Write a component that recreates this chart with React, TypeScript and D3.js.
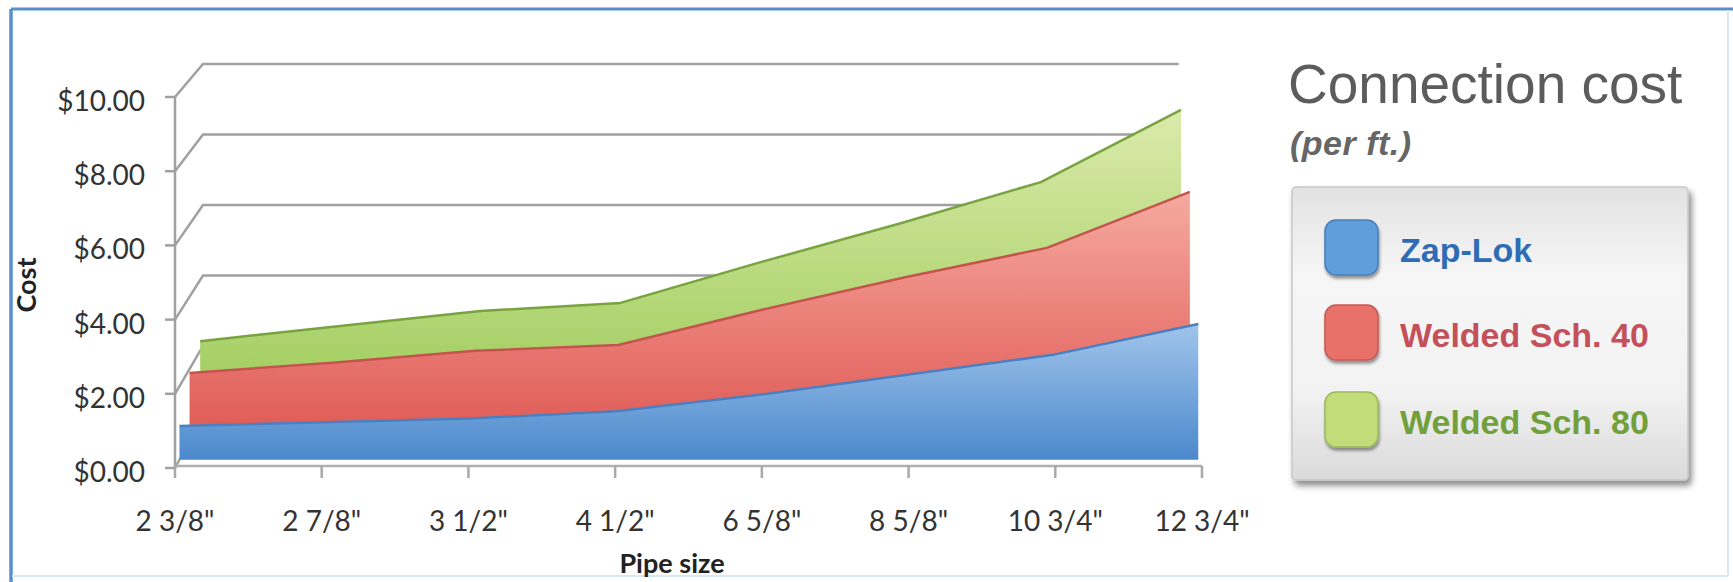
import React from 'react';
import * as d3 from 'd3';

const categories = ['2 3/8"', '2 7/8"', '3 1/2"', '4 1/2"', '6 5/8"', '8 5/8"', '10 3/4"', '12 3/4"'];
const zapLok = [0.92, 1.02, 1.12, 1.32, 1.77, 2.31, 2.85, 3.69];
const weldedSch40 = [1.89, 2.17, 2.5, 2.66, 3.63, 4.53, 5.35, 6.9];
const weldedSch80 = [2.27, 2.7, 3.12, 3.35, 4.5, 5.6, 6.76, 8.8];
const yTicks = [0, 2, 4, 6, 8, 10];
const seriesNames = ['Zap-Lok', 'Welded Sch. 40', 'Welded Sch. 80'];

const W = 1733;
const H = 582;

// front plane scales
const xFront = d3.scalePoint<string>().domain(categories).range([175, 1202]);
const yFront = d3.scaleLinear().domain([0, 10]).range([468, 97]);
// perspective vanishing point & depth scale factors
const VP = { x: 735, y: -563 };
const S_BACK = 0.95;
const proj = (x: number, y: number, s: number): [number, number] => [VP.x + s * (x - VP.x), VP.y + s * (y - VP.y)];

const series = [
  { name: seriesNames[2], values: weldedSch80, s: 0.955, grad: 'gGreen', stroke: '#78a33f' },
  { name: seriesNames[1], values: weldedSch40, s: 0.974, grad: 'gRed', stroke: '#c4554e' },
  { name: seriesNames[0], values: zapLok, s: 0.992, grad: 'gBlue', stroke: '#4a80c2' },
];

const legendItems = [
  { name: seriesNames[0], fill: '#5f9ddb', stroke: '#4a7fb5', text: '#2e6db5' },
  { name: seriesNames[1], fill: '#e8716b', stroke: '#c45a55', text: '#c4505a' },
  { name: seriesNames[2], fill: '#c3dc7a', stroke: '#9bb860', text: '#72a03a' },
];

const fmt = (v: number) => '$' + d3.format('.2f')(v);
const tickFont = 'Lato, "Open Sans", sans-serif';

export default function App() {
  const xLeft = xFront(categories[0])!;
  const xRight = xFront(categories[categories.length - 1])!;

  const makeArea = (s: number) =>
    d3
      .area<number>()
      .x((_, i) => proj(xFront(categories[i])!, 0, s)[0])
      .y0(() => proj(0, yFront(0), s)[1])
      .y1((v) => proj(0, yFront(v), s)[1]);
  const makeLine = (s: number) =>
    d3
      .line<number>()
      .x((_, i) => proj(xFront(categories[i])!, 0, s)[0])
      .y((v) => proj(0, yFront(v), s)[1]);

  return (
    <svg width={W} height={H} style={{ position: 'absolute', left: 0, top: 0, background: '#fff' }}>
      <defs>
        <linearGradient id="gBlue" gradientUnits="userSpaceOnUse" x1="0" y1="320" x2="0" y2="462">
          <stop offset="0" stopColor="#a3c6ec" />
          <stop offset="1" stopColor="#4a88cc" />
        </linearGradient>
        <linearGradient id="gRed" gradientUnits="userSpaceOnUse" x1="0" y1="190" x2="0" y2="441">
          <stop offset="0" stopColor="#f6aaa0" />
          <stop offset="1" stopColor="#df5853" />
        </linearGradient>
        <linearGradient id="gGreen" gradientUnits="userSpaceOnUse" x1="0" y1="110" x2="0" y2="416">
          <stop offset="0" stopColor="#dbeaab" />
          <stop offset="1" stopColor="#9ccb58" />
        </linearGradient>
        <linearGradient id="gLegend" x1="0" y1="0" x2="0" y2="1">
          <stop offset="0" stopColor="#e2e2e2" />
          <stop offset="0.3" stopColor="#f6f6f6" />
          <stop offset="0.7" stopColor="#f2f2f2" />
          <stop offset="1" stopColor="#dadada" />
        </linearGradient>
        <filter id="shadow" x="-10%" y="-10%" width="130%" height="130%">
          <feDropShadow dx="3" dy="5" stdDeviation="3" floodColor="#000" floodOpacity="0.45" />
        </filter>
        <filter id="swShadow" x="-20%" y="-20%" width="150%" height="150%">
          <feDropShadow dx="1" dy="3" stdDeviation="1.5" floodColor="#000" floodOpacity="0.4" />
        </filter>
      </defs>

      {/* frame */}
      <line x1={11} y1={9} x2={1733} y2={9} stroke="#5a8fcb" strokeWidth={3} />
      <line x1={11} y1={9} x2={11} y2={582} stroke="#5a8fcb" strokeWidth={3.5} />
      <line x1={1728} y1={10} x2={1728} y2={576} stroke="#d6e8f3" strokeWidth={2} />
      <line x1={12} y1={576} x2={1728} y2={576} stroke="#d6e8f3" strokeWidth={2} />

      {/* back wall gridlines and side wall diagonals */}
      <g stroke="#a0a0a0" strokeWidth={2.5} fill="none">
        {yTicks.map((t) => {
          const f = proj(xLeft, yFront(t), 1);
          const b = proj(xLeft, yFront(t), S_BACK);
          const br = proj(xRight, yFront(t), S_BACK);
          return <path key={t} d={`M${f[0]},${f[1]}L${b[0]},${b[1]}L${br[0]},${br[1]}`} />;
        })}
      </g>
      {/* y axis line */}
      <line x1={xLeft} y1={yFront(10)} x2={xLeft} y2={yFront(0)} stroke="#a0a0a0" strokeWidth={2.5} />
      {yTicks.map((t) => (
        <line key={t} x1={xLeft - 10} x2={xLeft} y1={yFront(t)} y2={yFront(t)} stroke="#a0a0a0" strokeWidth={2.5} />
      ))}

      {/* areas */}
      {series.map((sr) => (
        <g key={sr.name}>
          <path d={makeArea(sr.s)(sr.values)!} fill={`url(#${sr.grad})`} />
          <path d={makeLine(sr.s)(sr.values)!} fill="none" stroke={sr.stroke} strokeWidth={2.5} strokeLinejoin="round" />
        </g>
      ))}

      {/* x axis */}
      <line x1={xLeft} x2={xRight} y1={yFront(0) - 2} y2={yFront(0) - 2} stroke="#b0b0b0" strokeWidth={2.5} />
      {categories.map((c) => (
        <line key={c} x1={xFront(c)} x2={xFront(c)} y1={yFront(0) - 2} y2={yFront(0) + 10} stroke="#a8a8a8" strokeWidth={2.5} />
      ))}

      {/* tick labels */}
      <g fontFamily={tickFont} fontSize={28} fill="#333">
        {yTicks.map((t) => (
          <text key={t} x={145} y={yFront(t) + 3} textAnchor="end" dominantBaseline="central">
            {fmt(t)}
          </text>
        ))}
        {categories.map((c) => (
          <text key={c} x={xFront(c)} y={531} textAnchor="middle">
            {c}
          </text>
        ))}
      </g>
      <text x={672} y={573} textAnchor="middle" fontFamily={tickFont} fontWeight="bold" fontSize={27} fill="#222">
        Pipe size
      </text>
      <text
        transform={`translate(36,285) rotate(-90)`}
        textAnchor="middle"
        fontFamily={tickFont}
        fontWeight="bold"
        fontSize={27}
        fill="#222"
      >
        Cost
      </text>

      {/* title */}
      <text x={1288} y={103} fontFamily='"Liberation Sans", Arial, sans-serif' fontSize={55} fill="#5c5c5c">
        Connection cost
      </text>
      <text
        x={1290}
        y={155}
        fontFamily='"Liberation Sans", Arial, sans-serif'
        fontSize={34}
        fontStyle="italic"
        fontWeight="bold"
        letterSpacing={0.5}
        fill="#666"
      >
        (per ft.)
      </text>

      {/* legend */}
      <rect x={1292} y={187} width={396} height={293} rx={4} fill="url(#gLegend)" stroke="#c8c8c8" strokeWidth={1.5} filter="url(#shadow)" />
      {legendItems.map((it, i) => {
        const y = [220, 305, 392][i];
        return (
          <g key={it.name}>
            <rect x={1325} y={y} width={53} height={55} rx={11} fill={it.fill} stroke={it.stroke} strokeWidth={1.5} filter="url(#swShadow)" />
            <text x={1400} y={y + 42} fontFamily='"Liberation Sans", Arial, sans-serif' fontWeight="bold" fontSize={34} fill={it.text}>
              {it.name}
            </text>
          </g>
        );
      })}
    </svg>
  );
}
